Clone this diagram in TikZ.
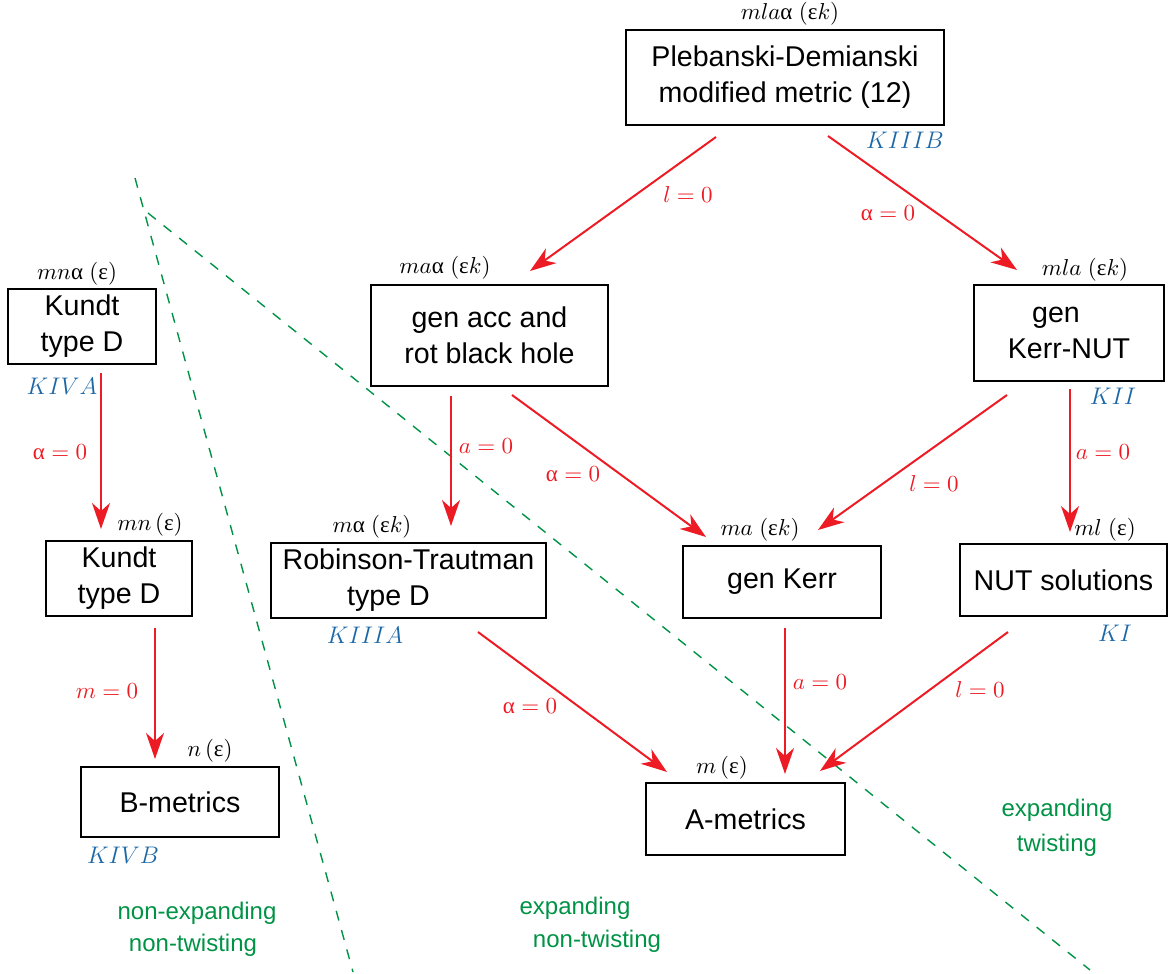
\RequirePackage{fix-cm}
\documentclass[tikz,border=0pt]{standalone}
\usepackage{fontspec}
\setmainfont{Liberation Sans}
\newfontfamily\grk{Liberation Serif}
\usetikzlibrary{arrows.meta,calc}
\definecolor{ared}{RGB}{237,28,36}
\definecolor{dgreen}{RGB}{0,146,69}
\definecolor{kblue}{RGB}{28,103,166}
\newcommand\gal{\mbox{\grk α}}
\newcommand\geps{\mbox{\grk ε}}
\begin{document}
\begin{tikzpicture}[x=0.5pt,y=-0.5pt,
 box/.style={draw, line width=1pt, inner sep=0pt, align=center, font=\fontsize{14.3}{18}\selectfont},
 lab/.style={inner sep=0pt, font=\fontsize{11.5}{13}\selectfont},
 kl/.style={inner sep=0pt, text=kblue, font=\fontsize{12}{14}\selectfont},
 cond/.style={inner sep=0pt, text=ared, font=\fontsize{11.5}{13}\selectfont},
 arr/.style={draw=ared, line width=1pt, -{Stealth[length=13pt,width=9pt,inset=4pt]}},
 reg/.style={inner sep=0pt, text=dgreen, font=\fontsize{12}{16}\selectfont},
 sep/.style={draw=dgreen, line width=0.7pt, dash pattern=on 5pt off 5pt}]
\useasboundingbox (0,0) rectangle (1169,974);

% separators
\coordinate (s1a) at (135,178);
\coordinate (s1b) at (353,972);
\coordinate (s2a) at (148,213);
\coordinate (s2b) at (1090,970);
\draw[sep] (s1a) -- (s1b);
\draw[sep] (s2a) -- (s2b);

% boxes
\node[box, minimum width=159pt, minimum height=47.5pt] (PD) at (785,77.5) {Plebanski-Demianski\\modified metric (12)};
\node[box, minimum width=118.5pt, minimum height=50.5pt] (ACC) at (489.5,335.5) {gen acc and\\rot black hole};
\node[box, minimum width=95pt, minimum height=48pt] (KN) at (1069,333) {gen\hspace*{13pt}\\Kerr-NUT};
\node[box, minimum width=74pt, minimum height=37.5pt] (K1) at (82,326.5) {Kundt\\type D};
\node[box, minimum width=73pt, minimum height=37.5pt] (K2) at (119,578.5) {Kundt\\type D};
\node[box, minimum width=137.5pt, minimum height=37.5pt] (RT) at (408.5,580.5) {Robinson-Trautman\\type D\hspace*{20pt}};
\node[box, minimum width=99pt, minimum height=36pt] (GK) at (782,582) {gen Kerr};
\node[box, minimum width=103.5pt, minimum height=36pt] (NUT) at (1063.5,580) {NUT solutions};
\node[box, minimum width=99pt, minimum height=35pt] (B) at (180,802) {B-metrics};
\node[box, minimum width=99.5pt, minimum height=36pt] (A) at (745.5,819) {A-metrics};

% parameter labels
\node[lab] (lPD) at (790,14) {$mla\gal\;(\geps k)$};
\node[lab] (lACC) at (445,268) {$ma\gal\;(\geps k)$};
\node[lab] (lKN) at (1085,270) {$mla\;(\geps k)$};
\node[lab] (lK1) at (77,274) {$mn\gal\;(\geps)$};
\node[lab] (lK2) at (150,525) {$mn\,(\geps)$};
\node[lab] (lRT) at (372,527) {$m\gal\;(\geps k)$};
\node[lab] (lGK) at (760,530) {$ma\;(\geps k)$};
\node[lab] (lNUT) at (1105,530) {$ml\;(\geps)$};
\node[lab] (lB) at (210,751) {$n\,(\geps)$};
\node[lab] (lA) at (722,768) {$m\,(\geps)$};

% class labels
\node[kl] (kPD) at (905,140) {$KIIIB$};
\node[kl] (kKN) at (1113,396) {$KII$};
\node[kl] (kK1) at (62,386) {$KIVA$};
\node[kl] (kRT) at (365,635) {$KIIIA$};
\node[kl] (kNUT) at (1115,633) {$KI$};
\node[kl] (kB) at (123,855) {$KIVB$};

% arrows
\draw[arr] ([shift={(-69,11)}]PD.south) -- ([shift={(40.5,-13)}]ACC.north);
\draw[arr] ([shift={(43,10)}]PD.south) -- ([shift={(-52,-14)}]KN.north);
\draw[arr] ([shift={(-38.5,9)}]ACC.south) -- ([shift={(42.5,-16)}]RT.north);
\draw[arr] ([shift={(22.5,8)}]ACC.south) -- ([shift={(-76,-8)}]GK.north);
\draw[arr] ([shift={(-62,13)}]KN.south) -- ([shift={(36,-15)}]GK.north);
\draw[arr] ([shift={(1,7)}]KN.south) -- ([shift={(6.5,-11)}]NUT.north);
\draw[arr] ([shift={(19,8)}]K1.south) -- ([shift={(-18,-11)}]K2.north);
\draw[arr] ([shift={(36,11)}]K2.south) -- ([shift={(-25,-7)}]B.north);
\draw[arr] ([shift={(69.5,13)}]RT.south) -- ([shift={(-78.5,-10)}]A.north);
\draw[arr] ([shift={(3,9)}]GK.south) -- ([shift={(39.5,-8)}]A.north);
\draw[arr] ([shift={(-55.5,15)}]NUT.south) -- ([shift={(74.5,-11)}]A.north);

% conditions
\node[cond] (c1) at (688,195) {$l=0$};
\node[cond] (c2) at (888,213) {$\gal=0$};
\node[cond] (c3) at (486,446) {$a=0$};
\node[cond] (c4) at (573,474) {$\gal=0$};
\node[cond] (c5) at (934,484) {$l=0$};
\node[cond] (c6) at (1103,452) {$a=0$};
\node[cond] (c7) at (60,452) {$\gal=0$};
\node[cond] (c8) at (107,691) {$m=0$};
\node[cond] (c9) at (530,706) {$\gal=0$};
\node[cond] (c10) at (820,682) {$a=0$};
\node[cond] (c11) at (980,690) {$l=0$};

% regions
\node[reg] (r1a) at (197,913) {non-expanding};
\node[reg] (r1b) at (193,945) {non-twisting};
\node[reg] (r2a) at (575,908) {expanding};
\node[reg] (r2b) at (597,941) {non-twisting};
\node[reg] (r3a) at (1057,810) {expanding};
\node[reg] (r3b) at (1057,845) {twisting};
\end{tikzpicture}
\end{document}
